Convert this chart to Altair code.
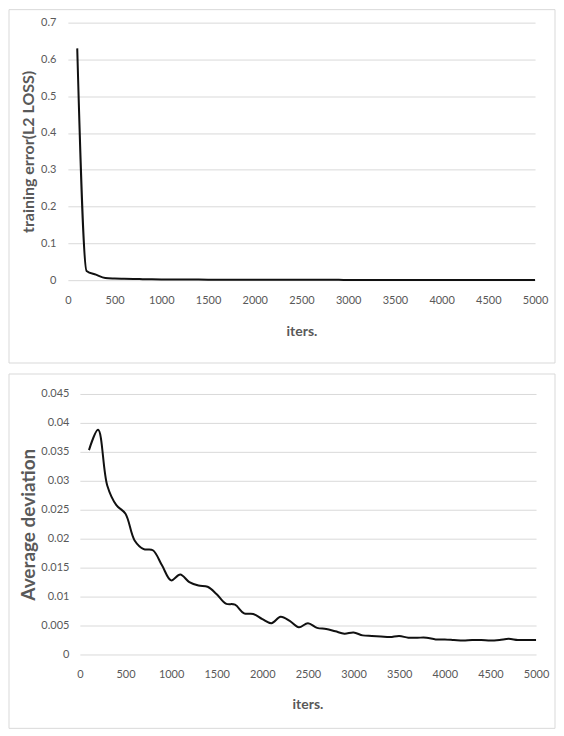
import altair as alt
import pandas as pd

# ---- data ----
iters = list(range(100, 5001, 100))

train_loss = [
    0.630, 0.025, 0.015, 0.006, 0.0045, 0.0038, 0.0032, 0.0028, 0.0024, 0.0021,
    0.0019, 0.0017, 0.0016, 0.0015, 0.0014, 0.0013, 0.0012, 0.0012, 0.0011, 0.0011,
    0.0010, 0.0010, 0.0009, 0.0009, 0.0009, 0.0008, 0.0008, 0.0008, 0.0008, 0.0007,
    0.0007, 0.0007, 0.0007, 0.0007, 0.0006, 0.0006, 0.0006, 0.0006, 0.0006, 0.0006,
    0.0005, 0.0005, 0.0005, 0.0005, 0.0005, 0.0005, 0.0005, 0.0005, 0.0005, 0.0005,
]

avg_dev = [
    0.0353, 0.0388, 0.0292, 0.0258, 0.0243, 0.0197, 0.0182, 0.0180, 0.0154, 0.0128,
    0.0138, 0.0125, 0.0119, 0.0117, 0.0104, 0.0088, 0.0086, 0.0071, 0.0070, 0.0061,
    0.0054, 0.0065, 0.0058, 0.0047, 0.0054, 0.0046, 0.0044, 0.0040, 0.0036, 0.0038,
    0.0033, 0.0032, 0.0031, 0.0030, 0.0032, 0.0029, 0.0029, 0.0029, 0.0026, 0.0026,
    0.0025, 0.0024, 0.0025, 0.0025, 0.0024, 0.0025, 0.0027, 0.0025, 0.0025, 0.0025,
]

x_ticks = list(range(0, 5001, 500))
y_ticks_top = [0, 0.1, 0.2, 0.3, 0.4, 0.5, 0.6, 0.7]
y_ticks_bottom = [0, 0.005, 0.01, 0.015, 0.02, 0.025, 0.03, 0.035, 0.04, 0.045]

df_top = pd.DataFrame({"iters": iters, "loss": train_loss})
df_bot = pd.DataFrame({"iters": iters, "dev": avg_dev})
frame_df = pd.DataFrame({"f": [0]})

GRAY = "#595959"
GRID = "#d9d9d9"
FONT = "Lato"


def x_axis(tx, ty):
    return alt.Axis(
        values=x_ticks, format="d", grid=False, domain=False, ticks=False,
        tickSize=0, labelPadding=14, labelFont=FONT, labelFontSize=11,
        labelColor=GRAY, labelFlush=False, labelOverlap=False,
        title="iters.", titleFont=FONT, titleFontSize=14,
        titleFontWeight="bold", titleColor=GRAY, titleBaseline="middle",
        titleAlign="center", titleX=tx, titleY=ty,
    )


def y_axis(vals, title, tsize, tx, h, lpad):
    return alt.Axis(
        values=vals, format="~g", grid=True, gridColor=GRID, gridWidth=1,
        domain=False, ticks=False, tickSize=0, labelPadding=lpad,
        labelFont=FONT, labelFontSize=11, labelColor=GRAY,
        labelFlush=False, labelOverlap=False, title=title,
        titleFont=FONT, titleFontSize=tsize, titleFontWeight="bold",
        titleColor=GRAY, titleBaseline="middle", titleAlign="center",
        titleX=tx, titleY=h / 2, titleAngle=270,
    )


# ---- top panel (origin shared with bottom panel; x range shifted left) ----
W1, H1 = 456, 258
frame1 = alt.Chart(frame_df).mark_rect(
    filled=False, stroke=GRID, strokeWidth=1
).encode(
    x=alt.value(-71), x2=alt.value(476),
    y=alt.value(-13), y2=alt.value(341),
)
line1 = alt.Chart(df_top).mark_line(
    color="#111111", strokeWidth=2, interpolate="monotone"
).encode(
    x=alt.X("iters:Q",
            scale=alt.Scale(domain=[0, 5000], nice=False, range=[-12, W1]),
            axis=x_axis(222, 51)),
    y=alt.Y("loss:Q", scale=alt.Scale(domain=[0, 0.7], nice=False),
            axis=y_axis(y_ticks_top, "training error(L2 LOSS)", 16, -51, H1, 24)),
)
top = alt.layer(frame1, line1).properties(width=W1, height=H1)

# ---- bottom panel ----
W2, H2 = 457, 261
frame2 = alt.Chart(frame_df).mark_rect(
    filled=False, stroke=GRID, strokeWidth=1
).encode(
    x=alt.value(-71), x2=alt.value(476),
    y=alt.value(-20), y2=alt.value(335),
)
line2 = alt.Chart(df_bot).mark_line(
    color="#111111", strokeWidth=2, interpolate="catmull-rom"
).encode(
    x=alt.X("iters:Q", scale=alt.Scale(domain=[0, 5000], nice=False),
            axis=x_axis(228, 50)),
    y=alt.Y("dev:Q", scale=alt.Scale(domain=[0, 0.045], nice=False),
            axis=y_axis(y_ticks_bottom, "Average deviation", 19, -51, H2, 11)),
)
bottom = alt.layer(frame2, line2).properties(width=W2, height=H2)

chart = alt.vconcat(top, bottom, spacing=9).properties(
    padding=0, background="white"
).configure_view(strokeWidth=0)

chart.save("out.html", embed_options={"renderer": "svg", "actions": False})
